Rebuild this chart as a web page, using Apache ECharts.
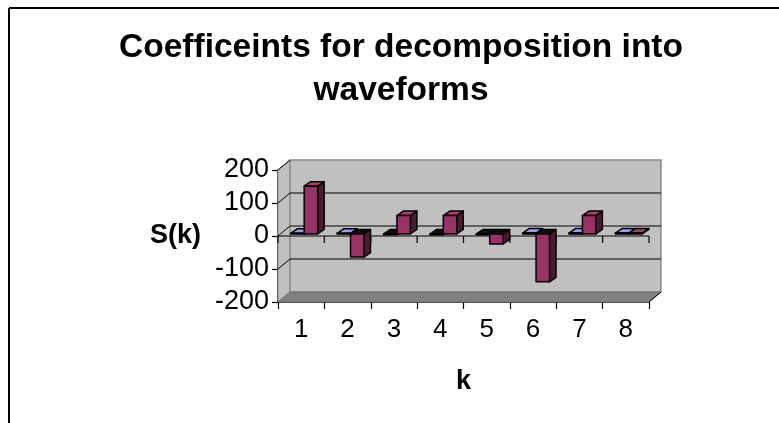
<!DOCTYPE html>
<html><head><meta charset="utf-8">
<script src="https://cdn.jsdelivr.net/npm/echarts@6/dist/echarts.min.js"></script>
<style>html,body{margin:0;padding:0;background:#fff}#c{width:779px;height:423px}</style>
</head><body><div id="c"></div>
<script>
const categories = ['1','2','3','4','5','6','7','8'];
const seriesA = [2, 2, -2, -2, -2, 3, 3, 3];
const seriesB = [145, -70, 56, 56, -30, -145, 56, 3];
const yTicks = [-200, -100, 0, 100, 200];
const titleText = 'Coefficeints for decomposition into\nwaveforms';

const DX = 12, DY = -10;      // wall depth
const BDX = 6.5, BDY = -4.5;  // bar depth
const FX = 3, FY = -2;        // bar front offset

function wallsItem(params, api) {
  const cs = params.coordSys;
  const x0 = cs.x, x1 = cs.x + cs.width, y0 = cs.y, y1 = cs.y + cs.height;
  const ch = [];
  ch.push({type:'polygon', shape:{points:[[x0,y0],[x0+DX,y0+DY],[x0+DX,y1+DY],[x0,y1]]},
    style:{fill:'#c0c0c0', stroke:'#8a8a8a', lineWidth:1}});
  ch.push({type:'rect', shape:{x:x0+DX, y:y0+DY, width:x1-x0, height:y1-y0},
    style:{fill:'#c0c0c0', stroke:'#8a8a8a', lineWidth:1.5}});
  ch.push({type:'polygon', shape:{points:[[x0,y1],[x1,y1],[x1+DX,y1+DY],[x0+DX,y1+DY]]},
    style:{fill:'#808080', stroke:'#707070', lineWidth:1}});
  yTicks.forEach(function (v) {
    const y = api.coord([0, v])[1];
    if (v > yTicks[0] && v < yTicks[yTicks.length-1]) {
      ch.push({type:'line', shape:{x1:x0+DX, y1:y+DY, x2:x1+DX, y2:y+DY}, style:{stroke:'#000', lineWidth:1.2}});
    }
    if (v > yTicks[0]) {
      ch.push({type:'line', shape:{x1:x0, y1:y, x2:x0+DX, y2:y+DY}, style:{stroke:'#000', lineWidth:1}});
    }
  });
  const yz = api.coord([0, 0])[1];
  ch.push({type:'line', shape:{x1:x0, y1:yz, x2:x1, y2:yz}, style:{stroke:'#000', lineWidth:1.2}});
  const bw = cs.width / categories.length;
  for (let i = 0; i <= categories.length; i++) {
    const x = x0 + i*bw;
    ch.push({type:'line', shape:{x1:x, y1:yz, x2:x, y2:yz+7}, style:{stroke:'#000', lineWidth:1.2}});
  }
  ch.push({type:'line', shape:{x1:x1, y1:y1, x2:x1+DX, y2:y1+DY}, style:{stroke:'#000', lineWidth:1}});
  return {type:'group', children:ch};
}

function barRenderer(sIdx, front, side, topPos) {
  return function (params, api) {
    const i = api.value(0), v = api.value(1);
    const bw = api.size([1, 0])[0];
    const w = bw * 0.29;
    const c0 = api.coord([i, 0]), c1 = api.coord([i, v]);
    const xl = c0[0] - w + sIdx*w + FX, xr = xl + w;
    const yb = c0[1] + FY, yt = c1[1] + FY;
    const top = Math.min(yb, yt), bot = Math.max(yb, yt);
    const st = {stroke:'#000', lineWidth:1.5, lineJoin:'round'};
    return {type:'group', children:[
      {type:'polygon', shape:{points:[[xr,top],[xr+BDX,top+BDY],[xr+BDX,bot+BDY],[xr,bot]]},
        style:Object.assign({fill:side}, st)},
      {type:'polygon', shape:{points:[[xl,top],[xl+BDX,top+BDY],[xr+BDX,top+BDY],[xr,top]]},
        style:Object.assign({fill: v >= 0 ? topPos : '#150a10'}, st)},
      {type:'rect', shape:{x:xl, y:top, width:w, height:Math.max(bot-top, 0.5)},
        style:Object.assign({fill:front}, st)}
    ]};
  };
}

const chart = echarts.init(document.getElementById('c'));
chart.setOption({
  animation: false,
  backgroundColor: '#fff',
  title: {text: titleText, left: 396, textAlign: 'center', top: 21,
    textStyle:{fontFamily:'Liberation Sans', fontWeight:'bold', fontSize:33.5, lineHeight:43, color:'#000'}},
  grid: {left: 278, top: 170, width: 371, height: 132},
  xAxis: {type:'category', data: categories, name:'k', nameLocation:'middle', nameGap:66,
    nameTextStyle:{fontFamily:'Liberation Sans', fontWeight:'bold', fontSize:27, color:'#000'},
    axisLine:{onZero:false, lineStyle:{color:'#000', width:1.5}},
    axisTick:{show:true, length:7, lineStyle:{color:'#000', width:1.2}},
    axisLabel:{fontFamily:'Liberation Sans', fontSize:26, color:'#000', margin:15},
    splitLine:{show:false}},
  yAxis: {type:'value', min:-200, max:200, interval:100, name:'S(k)', nameLocation:'middle', nameRotate:0, nameGap:77,
    nameTextStyle:{fontFamily:'Liberation Sans', fontWeight:'bold', fontSize:27, color:'#000'},
    axisLine:{show:true, lineStyle:{color:'#000', width:1.5}},
    axisTick:{show:true, length:6, lineStyle:{color:'#000', width:1.2}},
    axisLabel:{fontFamily:'Liberation Sans', fontSize:27, color:'#000', margin:9},
    splitLine:{show:false}},
  graphic: [
    {type:'line', shape:{x1:9, y1:8, x2:779, y2:8}, style:{stroke:'#000', lineWidth:2}},
    {type:'line', shape:{x1:9, y1:8, x2:9, y2:423}, style:{stroke:'#000', lineWidth:2}}
  ],
  series: [
    {type:'custom', z:1, data:[[0, 0]], renderItem: wallsItem, silent:true},
    {type:'custom', z:3, data: seriesA.map(function (v, i) { return [i, v]; }),
      renderItem: barRenderer(0, '#9999ff', '#4d4d80', '#9999ff')},
    {type:'custom', z:4, data: seriesB.map(function (v, i) { return [i, v]; }),
      renderItem: barRenderer(1, '#993366', '#4d1a33', '#a8406f')}
  ]
});
</script>
</body></html>
